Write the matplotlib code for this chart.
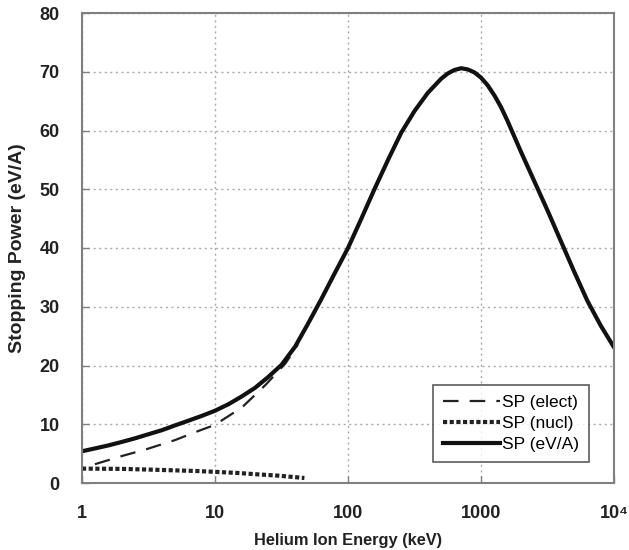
import matplotlib
matplotlib.use("Agg")
import matplotlib.pyplot as plt

plt.rcParams['font.family'] = ['Liberation Sans', 'DejaVu Sans']

# Total stopping power (eV/A)
energy_total = [1, 1.26, 1.58, 2, 2.5, 3.16, 4, 5, 6.3, 7.9, 10, 12.6, 15.8, 20, 25, 31.6,
                40, 50, 63, 79, 100, 126, 158, 200, 251, 316, 398, 501, 562, 631, 708, 794,
                891, 1000, 1122, 1259, 1413, 1585, 1778, 1995, 2512, 3162, 3981, 5012, 6310,
                7943, 10000]
sp_total = [5.4, 5.9, 6.4, 7.0, 7.6, 8.3, 9.0, 9.8, 10.6, 11.4, 12.3, 13.4, 14.7, 16.2,
            18.0, 20.1, 23.2, 27.1, 31.3, 35.6, 40.0, 45.0, 50.0, 55.0, 59.6, 63.3, 66.4,
            68.8, 69.7, 70.3, 70.6, 70.4, 69.9, 69.0, 67.7, 66.0, 64.0, 61.6, 59.0, 56.4,
            51.4, 46.4, 41.2, 36.0, 31.0, 26.8, 23.1]

# Electronic stopping power
energy_elect = [1.25, 2, 3, 5, 7, 10, 16, 24, 34, 42]
sp_elect = [3.2, 4.6, 5.7, 7.3, 8.6, 9.9, 12.9, 16.7, 20.4, 23.6]

# Nuclear stopping power
energy_nucl = [1, 2, 3, 5, 7, 10, 15, 20, 30, 47]
sp_nucl = [2.45, 2.4, 2.3, 2.15, 2.05, 1.9, 1.7, 1.5, 1.25, 0.85]

x_ticks = [1, 10, 100, 1000, 10000]
x_tick_labels = ['1', '10', '100', '1000', '10\u2074']
y_ticks = [0, 10, 20, 30, 40, 50, 60, 70, 80]

fig = plt.figure(figsize=(6.29, 5.5), dpi=100)
ax = fig.add_axes([82/629, 1-483/550, (614-82)/629, (483-13)/550])

ax.plot(energy_elect, sp_elect, color='#222222', lw=1.6, dashes=(7, 5), label='SP (elect)')
ax.plot(energy_nucl, sp_nucl, color='#222222', lw=3.0, dashes=(1.0, 0.6), label='SP (nucl)')
ax.plot(energy_total, sp_total, color='#111111', lw=3.0, label='SP (eV/A)',
        solid_joinstyle='round')

ax.set_xscale('log')
ax.set_xlim(1, 10000)
ax.set_ylim(0, 80)
ax.set_xticks(x_ticks)
ax.set_xticklabels(x_tick_labels)
ax.xaxis.set_minor_locator(matplotlib.ticker.NullLocator())
ax.set_yticks(y_ticks)

ax.grid(True, which='major', color='#aaaaaa', lw=1.0, ls=(0, (1.5, 2.5)))
for s in ax.spines.values():
    s.set_color('#808080')
    s.set_linewidth(1.5)
ax.tick_params(direction='in', length=5, color='#808080', width=1,
               labelsize=13, top=False, right=False)
ax.tick_params(axis='y', pad=16)
ax.tick_params(axis='x', pad=16)
for lbl in ax.get_xticklabels() + ax.get_yticklabels():
    lbl.set_fontweight('bold')
    lbl.set_color('#222222')

ax.set_xlabel('Helium Ion Energy (keV)', fontsize=11.8, fontweight='bold', color='#222222', labelpad=8)
ax.set_ylabel('Stopping Power (eV/A)', fontsize=14.0, fontweight='bold', color='#222222', labelpad=10)

leg = ax.legend(loc='lower right', bbox_to_anchor=(0.953, 0.045), fontsize=12.5,
                frameon=True, fancybox=False, edgecolor='#333333', handlelength=3.3,
                handletextpad=0.15, borderpad=0.55, labelspacing=0.35, borderaxespad=0)
leg.get_frame().set_linewidth(1.2)

fig.savefig('out.png', dpi=100, facecolor='white')
